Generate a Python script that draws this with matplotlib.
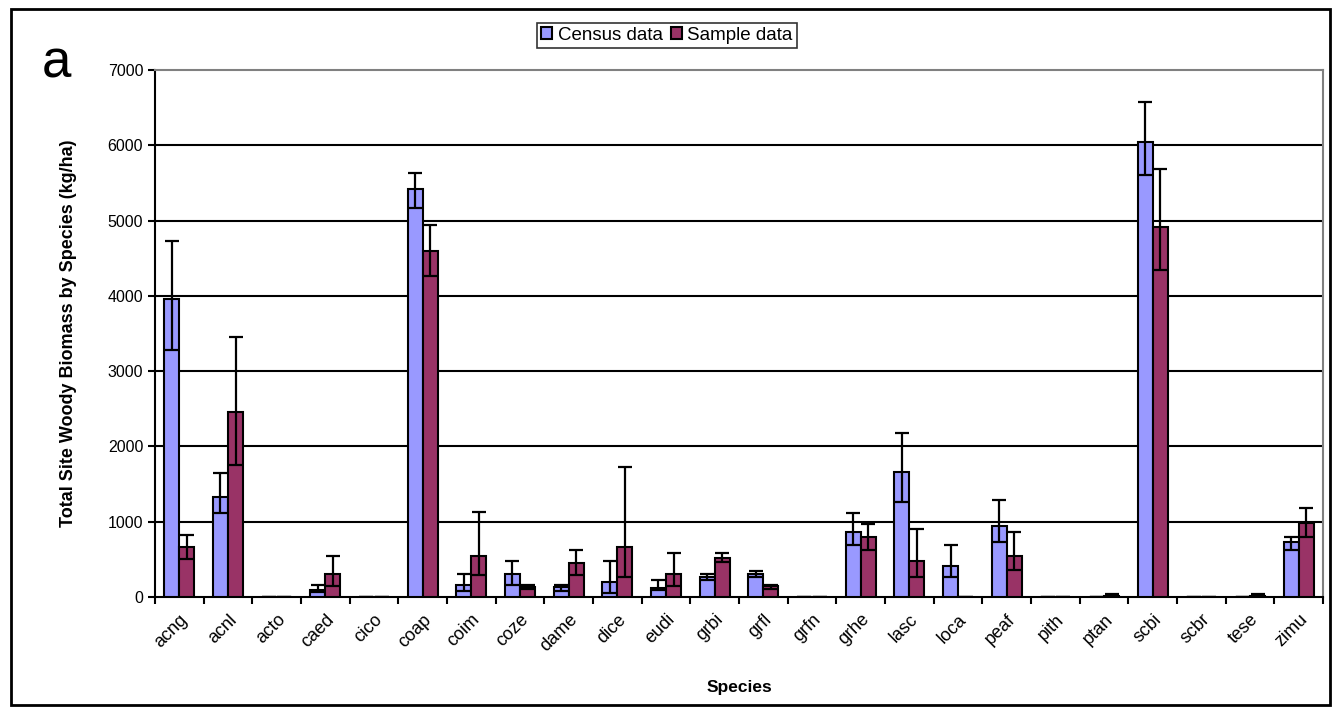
import numpy as np
import matplotlib
matplotlib.use('Agg')
import matplotlib.pyplot as plt
from matplotlib.patches import Rectangle

plt.rcParams['font.family'] = ['Liberation Sans', 'DejaVu Sans']

SPECIES = ['acng', 'acnl', 'acto', 'caed', 'cico', 'coap', 'coim', 'coze',
           'dame', 'dice', 'eudi', 'grbi', 'grfl', 'grfn', 'grhe', 'lasc',
           'loca', 'peaf', 'pith', 'ptan', 'scbi', 'scbr', 'tese', 'zimu']

# biomass (kg/ha) with lower / upper error
census    = [3960, 1330, 0, 90, 0, 5415, 160, 300, 130, 195, 125, 270, 310, 0,
             865, 1655, 410, 940, 0, 5, 6050, 0, 5, 730]
census_lo = [680, 210, 0, 25, 0, 250, 80, 145, 45, 145, 35, 50, 45, 0,
             180, 390, 145, 215, 0, 0, 440, 0, 0, 105]
census_hi = [770, 320, 0, 65, 0, 215, 140, 175, 25, 280, 105, 30, 30, 0,
             255, 525, 275, 350, 0, 0, 520, 0, 0, 65]
sample    = [660, 2460, 0, 300, 0, 4590, 550, 135, 450, 660, 300, 520, 140, 0,
             800, 480, 0, 550, 0, 15, 4910, 0, 15, 980]
sample_lo = [160, 710, 0, 155, 0, 320, 260, 35, 160, 390, 150, 50, 30, 0,
             175, 215, 0, 195, 0, 0, 570, 0, 0, 180]
sample_hi = [170, 1000, 0, 245, 0, 355, 575, 20, 170, 1065, 280, 65, 15, 0,
             170, 420, 0, 315, 0, 25, 770, 0, 25, 205]

C_CENSUS = '#9999FF'
C_SAMPLE = '#993366'

fig = plt.figure(figsize=(13.34, 7.2), dpi=100)
ax = fig.add_axes([0.1162, 0.1708, 0.9918 - 0.1162, 0.9028 - 0.1708])

x = np.arange(len(SPECIES))
w = 0.31
err_kw = dict(ecolor='black', elinewidth=1.6, capsize=5, capthick=1.6)
ax.bar(x - w/2, census, w, color=C_CENSUS, edgecolor='black', linewidth=1.5,
       yerr=[census_lo, census_hi], error_kw=err_kw, label='Census data', zorder=3)
ax.bar(x + w/2, sample, w, color=C_SAMPLE, edgecolor='black', linewidth=1.5,
       yerr=[sample_lo, sample_hi], error_kw=err_kw, label='Sample data', zorder=3)

ax.set_xlim(-0.5, len(SPECIES) - 0.5)
ax.set_ylim(0, 7000)
ax.set_yticks(np.arange(0, 7001, 1000))
ax.tick_params(axis='y', labelsize=11.5, length=5, width=1.5, direction='out')
ax.set_xticks(x)
ax.set_xticklabels(SPECIES, rotation=45, ha='right', rotation_mode='anchor',
                   fontsize=13)
ax.tick_params(axis='x', which='major', length=0, pad=10)
ax.set_xticks(np.arange(-0.5, len(SPECIES), 1.0), minor=True)
ax.tick_params(axis='x', which='minor', length=5, width=1.5, direction='out')

for yv in range(1000, 7000, 1000):
    ax.axhline(yv, color='black', lw=1.5, zorder=1)

for s in ['left', 'bottom']:
    ax.spines[s].set_color('black')
    ax.spines[s].set_linewidth(1.5)
for s in ['top', 'right']:
    ax.spines[s].set_color('#808080')
    ax.spines[s].set_linewidth(1.5)

ax.set_ylabel('Total Site Woody Biomass by Species (kg/ha)', fontsize=13,
              fontweight='bold', labelpad=22)
ax.set_xlabel('Species', fontsize=12.5, fontweight='bold', labelpad=18)

leg = fig.legend(loc='center', bbox_to_anchor=(0.5, 0.951), ncol=2, fontsize=13.5,
                 frameon=True, fancybox=False, edgecolor='black',
                 handlelength=0.6, handleheight=0.6, handletextpad=0.3,
                 columnspacing=0.4, borderpad=0.2)
leg.get_frame().set_linewidth(1.2)

fig.text(0.031, 0.893, 'a', fontsize=38)

# outer frame
fig.patches.append(Rectangle((0.0085, 0.021), 0.9885, 0.966, transform=fig.transFigure,
                             fill=False, edgecolor='black', linewidth=2))

plt.savefig('out.png', dpi=100)
